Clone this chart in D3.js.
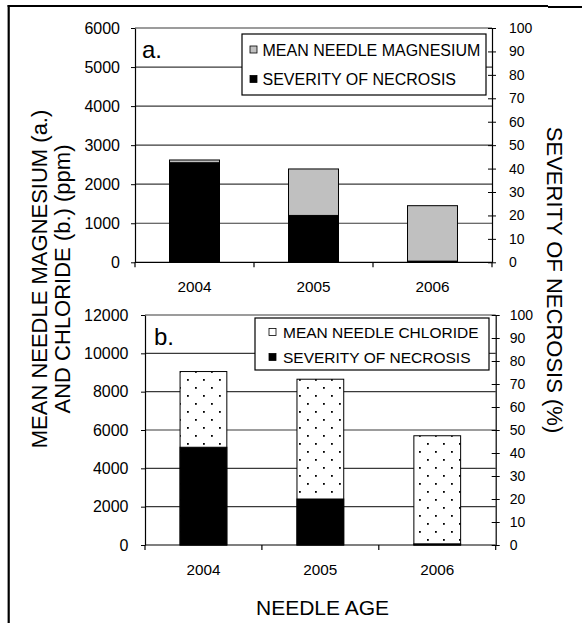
<!DOCTYPE html>
<html><head><meta charset="utf-8">
<script src="https://cdn.jsdelivr.net/npm/d3@7"></script>
<style>
body{margin:0;background:#fff}
svg{display:block}
text{font-family:"Liberation Sans",Arial,Helvetica,sans-serif;fill:#000}
</style>
</head><body>
<svg id="c" width="582" height="623"></svg>
<script>
// ---- data ----
const years = ["2004", "2005", "2006"];
const magnesium = [2620, 2390, 1450];      // ppm, panel a
const chloride = [9050, 8650, 5700];       // ppm, panel b
const necrosis = [42.5, 20, 0.5];          // %, both panels
const magnesiumTicks = [0, 1000, 2000, 3000, 4000, 5000, 6000];
const chlorideTicks = [0, 2000, 4000, 6000, 8000, 10000, 12000];
const necrosisTicks = [0, 10, 20, 30, 40, 50, 60, 70, 80, 90, 100];
const legendA = ["MEAN NEEDLE MAGNESIUM", "SEVERITY OF NECROSIS"];
const legendB = ["MEAN NEEDLE CHLORIDE", "SEVERITY OF NECROSIS"];
const leftTitle = ["MEAN NEEDLE MAGNESIUM (a.)", "AND CHLORIDE (b.) (ppm)"];
const rightTitle = "SEVERITY OF NECROSIS (%)";
const xTitle = "NEEDLE AGE";

const FONT = '"Liberation Sans",Arial,Helvetica,sans-serif';
const svg = d3.select("#c");

// dotted pattern
const defs = svg.append("defs");
const pat = defs.append("pattern").attr("id", "dots").attr("patternUnits", "userSpaceOnUse")
  .attr("width", 16).attr("height", 16);
pat.append("rect").attr("width", 16).attr("height", 16).attr("fill", "#fff");
pat.append("rect").attr("x", 3).attr("y", 3).attr("width", 1.8).attr("height", 1.8).attr("fill", "#000");
pat.append("rect").attr("x", 11).attr("y", 11).attr("width", 1.8).attr("height", 1.8).attr("fill", "#000");

// outer frame (cropped at right/bottom)
svg.append("line").attr("x1", 8.7).attr("x2", 8.7).attr("y1", 5).attr("y2", 623).attr("stroke", "#000").attr("stroke-width", 2.2);
svg.append("line").attr("x1", 7.6).attr("x2", 548).attr("y1", 6).attr("y2", 6).attr("stroke", "#000").attr("stroke-width", 2.2);
svg.append("line").attr("x1", 548).attr("x2", 582).attr("y1", 7).attr("y2", 7).attr("stroke", "#000").attr("stroke-width", 2.2);

function panel(p) {
  const g = svg.append("g");
  const x = d3.scaleBand().domain(years).range([p.left, p.right])
    .paddingInner(p.pad).paddingOuter(p.pad / 2);
  const yL = d3.scaleLinear().domain([0, d3.max(p.ticks)]).range([p.bottom, p.top]);
  const yR = d3.scaleLinear().domain([0, 100]).range([p.bottom, p.top]);

  // gridlines
  g.append("g").selectAll("line").data(p.ticks.filter(t => t > 0)).join("line")
    .attr("x1", p.left).attr("x2", p.right)
    .attr("y1", d => yL(d)).attr("y2", d => yL(d))
    .attr("stroke", "#3a3a3a").attr("stroke-width", 1.2);

  // main bars (left axis)
  g.append("g").selectAll("rect").data(years).join("rect")
    .attr("x", d => x(d)).attr("width", x.bandwidth())
    .attr("y", (d, i) => yL(p.values[i]))
    .attr("height", (d, i) => yL(0) - yL(p.values[i]))
    .attr("fill", p.fill).attr("stroke", "#000").attr("stroke-width", 1);

  // necrosis bars (right axis)
  g.append("g").selectAll("rect").data(years).join("rect")
    .attr("x", d => x(d)).attr("width", x.bandwidth())
    .attr("y", (d, i) => yR(necrosis[i]))
    .attr("height", (d, i) => yR(0) - yR(necrosis[i]))
    .attr("fill", "#000").attr("stroke", "#000").attr("stroke-width", 1);

  // left axis
  const gl = g.append("g").attr("transform", `translate(${p.left},0)`)
    .call(d3.axisLeft(yL).tickValues(p.ticks).tickSizeInner(4).tickSizeOuter(0)
      .tickPadding(p.padL).tickFormat(d3.format("d")));
  gl.attr("font-family", FONT).attr("font-size", 16);
  gl.select(".domain").attr("stroke", "#000").attr("stroke-width", 1.2);

  // right axis (crossing ticks)
  const gr = g.append("g").attr("transform", `translate(${p.right},0)`)
    .call(d3.axisRight(yR).tickValues(necrosisTicks).tickSizeInner(4).tickSizeOuter(0)
      .tickPadding(p.padR).tickFormat(d3.format("d")));
  gr.attr("font-family", FONT).attr("font-size", 14);
  gr.selectAll(".tick line").attr("x1", -4);
  gr.select(".domain").attr("stroke", "#000").attr("stroke-width", 1.2);

  // category axis: ticks at band boundaries
  g.append("line").attr("x1", p.left).attr("x2", p.right).attr("y1", yL(0)).attr("y2", yL(0))
    .attr("stroke", "#000").attr("stroke-width", 1.2);
  const bounds = d3.range(years.length + 1).map(i => x.range()[0] + i * x.step());
  g.append("g").selectAll("line").data(bounds).join("line")
    .attr("x1", d => d).attr("x2", d => d).attr("y1", yL(0)).attr("y2", yL(0) + 5)
    .attr("stroke", "#000").attr("stroke-width", 1.2);
  g.append("g").selectAll("text").data(years).join("text")
    .attr("x", d => x(d) + x.bandwidth() / 2).attr("y", yL(0) + 30)
    .attr("text-anchor", "middle").attr("font-size", 15.3).text(d => d);

  // panel label
  g.append("text").attr("x", p.labelX).attr("y", p.labelY).attr("font-size", 24).text(p.label);

  // legend
  const lg = g.append("g");
  lg.append("rect").attr("x", p.leg.x).attr("y", p.leg.y).attr("width", p.leg.w).attr("height", p.leg.h)
    .attr("fill", "#fff").attr("stroke", "#000").attr("stroke-width", 1.2);
  const fills = [p.legFill, "#000"];
  p.legend.forEach((t, i) => {
    const by = p.leg.rows[i];
    lg.append("rect").attr("x", p.leg.sx).attr("y", by - 9.5).attr("width", 7).attr("height", 7)
      .attr("fill", fills[i]).attr("stroke", "#000").attr("stroke-width", 0.8);
    lg.append("text").attr("x", p.leg.tx).attr("y", by).attr("font-size", p.leg.fs).text(t);
  });
}

panel({
  left: 135, right: 492, top: 28, bottom: 262.3, pad: 0.58,
  ticks: magnesiumTicks, values: magnesium, fill: "#c0c0c0", legFill: "#c0c0c0",
  padL: 11, padR: 13, label: "a.", labelX: 142, labelY: 58, legend: legendA,
  leg: {x: 242, y: 34, w: 244, h: 61, sx: 250, tx: 262.5, rows: [55.5, 85], fs: 16}
});

panel({
  left: 145, right: 495.7, top: 315, bottom: 545, pad: 0.6,
  ticks: chlorideTicks, values: chloride, fill: "url(#dots)", legFill: "#fff",
  padL: 12.5, padR: 10, label: "b.", labelX: 154, labelY: 345, legend: legendB,
  leg: {x: 255, y: 318, w: 234, h: 52, sx: 269, tx: 283, rows: [338, 363], fs: 15.5}
});

// axis titles
svg.append("text").attr("transform", "translate(47,279) rotate(-90)")
  .attr("text-anchor", "middle").attr("font-size", 22).text(leftTitle[0]);
svg.append("text").attr("transform", "translate(70,279) rotate(-90)")
  .attr("text-anchor", "middle").attr("font-size", 22).text(leftTitle[1]);
svg.append("text").attr("transform", "translate(547,280) rotate(90)")
  .attr("text-anchor", "middle").attr("font-size", 22).text(rightTitle);
svg.append("text").attr("x", 322.5).attr("y", 615)
  .attr("text-anchor", "middle").attr("font-size", 21).text(xTitle);
</script>
</body></html>
